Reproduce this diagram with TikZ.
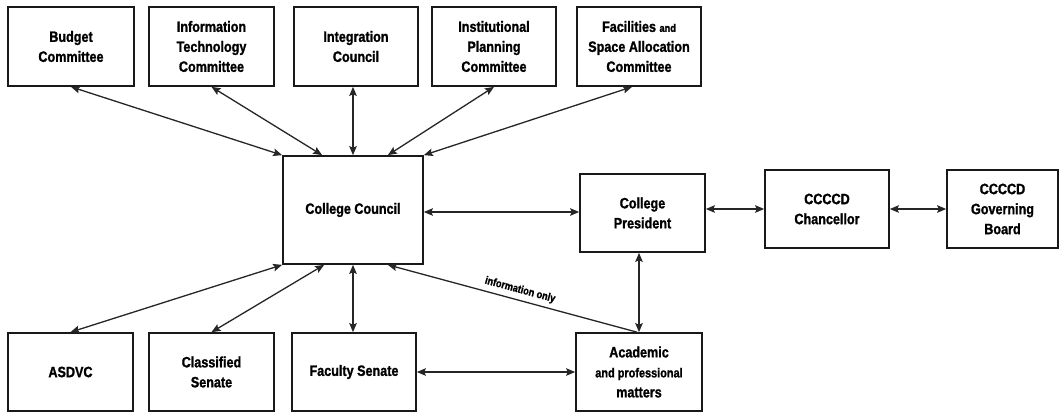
\documentclass[tikz,border=0pt]{standalone}
\usepackage{fontspec}
\setmainfont{Liberation Sans}[FakeStretch=0.84,BoldFeatures={FakeBold=1.2}]
\usetikzlibrary{arrows.meta,calc}
\begin{document}
\begin{tikzpicture}[x=1pt,y=-1pt,
  orgbox/.style={draw=black!90,line width=1.7pt,align=center,inner sep=1pt,
    font=\bfseries\fontsize{15}{20}\selectfont},
  topbox/.style={orgbox,minimum width=124pt,minimum height=79pt},
  midbox/.style={orgbox,minimum width=124pt,minimum height=78pt},
  link/.style={draw=black!85,line width=1.3pt,
    {Stealth[length=9pt,width=7.5pt,inset=1.5pt]}-{Stealth[length=9pt,width=7.5pt,inset=1.5pt]}},
  onelink/.style={draw=black!85,line width=1.3pt,-{Stealth[length=9pt,width=7.5pt,inset=1.5pt]}}
]
\useasboundingbox[fill=white] (0,0) rectangle (1062,413);
% top row
\node[topbox,minimum width=126pt] (budget) at (71,46.5) {Budget\\Committee};
\node[topbox,minimum width=125pt] (infotech) at (211.5,46.5) {Information\\Technology\\Committee};
\node[topbox] (integ) at (356,46.5) {Integration\\Council};
\node[topbox] (inst) at (494,46.5) {Institutional\\Planning\\Committee};
\node[topbox] (facil) at (639,46.5) {Facilities {\fontsize{11}{12}\selectfont and}\\Space Allocation\\Committee};
% middle row
\node[orgbox,minimum width=140pt,minimum height=108pt] (council) at (353,210) {College Council};
\node[midbox,minimum width=125pt] (president) at (642.5,213) {College\\President};
\node[midbox] (chancellor) at (827,209) {CCCCD\\Chancellor};
\node[midbox,minimum width=111pt] (board) at (1002.5,209) {CCCCD\\Governing\\Board};
% bottom row
\node[midbox,minimum width=125pt] (asdvc) at (70.5,372) {ASDVC};
\node[midbox,minimum width=125pt] (classified) at (211.5,372) {Classified\\Senate};
\node[midbox] (faculty) at (354,372) {Faculty Senate};
\node[midbox,minimum width=126pt] (academic) at (639,372) {Academic\\{\fontsize{13}{18}\selectfont and professional}\\matters};
% connectors top
\draw[link] (budget.south) -- (council.north west);
\draw[link] (infotech.south) -- ([xshift=40pt]council.north west);
\draw[link] (council.north |- integ.south) -- (council.north);
\draw[link] (inst.south) -- ([xshift=-36pt]council.north east);
\draw[link] ([xshift=-7pt]facil.south) -- (council.north east);
% connectors bottom
\draw[link] (asdvc.north) -- (council.south west);
\draw[link] (classified.north) -- ([xshift=42pt]council.south west);
\draw[link] (council.south) -- (council.south |- faculty.north);
\draw[onelink] ([xshift=-2pt]academic.north) -- node[pos=0.48,above=1pt,sloped,font=\bfseries\fontsize{11}{12}\selectfont] {information only} ([xshift=-36pt]council.south east);
\draw[link] (academic.north) -- (academic.north |- president.south);
% horizontal
\draw[link] ([yshift=-2pt]council.east) -- ([yshift=-2pt]council.east -| president.west);
\draw[link] (president.east |- chancellor.west) -- (chancellor.west);
\draw[link] (chancellor.east) -- (board.west);
\draw[link] (faculty.east) -- (academic.west);
\end{tikzpicture}
\end{document}
